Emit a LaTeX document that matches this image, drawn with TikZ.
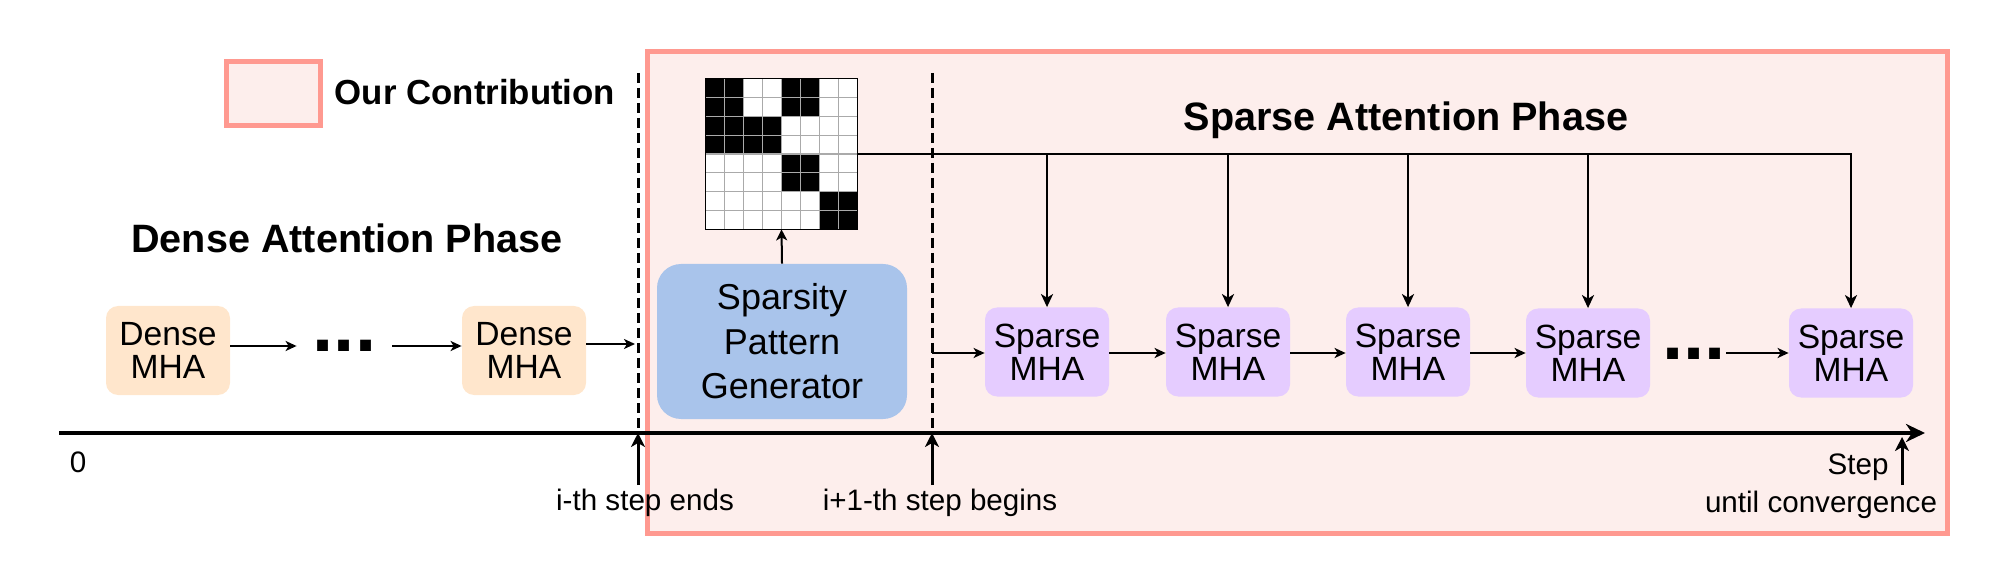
\documentclass[tikz,border=0pt]{standalone}
\usepackage{fontspec}
\setmainfont{Liberation Sans}
\usetikzlibrary{arrows.meta}
\definecolor{contribline}{HTML}{FF9990}
\definecolor{contribfill}{HTML}{FDEEEC}
\definecolor{densefill}{HTML}{FFE6CC}
\definecolor{sparsefill}{HTML}{E5CCFF}
\definecolor{genfill}{HTML}{A9C4EB}
\definecolor{gridgray}{HTML}{AAAAAA}
\begin{document}
\begin{tikzpicture}[x=0.5pt,y=-0.5pt,
  contrib/.style={draw=contribline, fill=contribfill, line width=2.5pt},
  mha/.style={rounded corners=6pt, minimum width=62pt, minimum height=44.5pt, inner sep=0pt, align=center, font=\fontsize{16.8}{16.5}\selectfont},
  densebox/.style={mha, fill=densefill},
  sparsebox/.style={mha, fill=sparsefill},
  genbox/.style={rounded corners=12pt, fill=genfill, minimum width=125pt, minimum height=77.5pt, inner sep=0pt, align=center, font=\fontsize{18}{22.2}\selectfont},
  titletext/.style={font=\fontsize{19.8}{22}\selectfont\bfseries, inner sep=0pt, anchor=base},
  labeltext/.style={font=\fontsize{14.8}{17}\selectfont, inner sep=0pt, anchor=base},
  dotstext/.style={font=\fontsize{38}{38}\selectfont\bfseries, inner sep=0pt, minimum height=0pt},
  dashline/.style={line width=1.5pt, dash pattern=on 5pt off 2.5pt},
  smallarr/.style={line width=1pt, -{Stealth[length=5.5pt,width=5pt,inset=1.5pt]}},
  downarr/.style={line width=1.2pt, -{Stealth[length=6.5pt,width=6pt,inset=1.8pt]}},
  uparr/.style={line width=1.5pt, -{Stealth[length=7pt,width=7pt,inset=2pt]}},
  axisarr/.style={line width=1.75pt, -{Stealth[length=9.5pt,width=9pt,inset=3pt]}}
]
\useasboundingbox (0,0) rectangle (2000,587);

% contribution region and legend
\draw[contrib] (647,52) rectangle (1947,533);
\draw[contrib] (226,62) rectangle (320,126);
\node[font=\fontsize{17.4}{20}\selectfont\bfseries, inner sep=0pt, anchor=base] (legend) at (475,105) {Our Contribution};

% titles
\node[titletext] (dtitle) at (347,253) {Dense Attention Phase};
\node[titletext] (stitle) at (1406,131) {Sparse Attention Phase};

% dense phase
\node[densebox] (d1) at (168,350.5) {Dense\\MHA};
\node[densebox] (d2) at (524,350.5) {Dense\\MHA};
\node[dotstext, minimum width=47.5pt] (dots1) at (344.5,346) {...};
\draw[smallarr] (d1.east |- dots1.west) -- (dots1.west);
\draw[smallarr] (dots1.east) -- (d2.west |- dots1.east);
\coordinate (in1) at (635,344);
\draw[smallarr] (d2.east |- in1) -- (in1);

% dashed step lines
\coordinate (dl1top) at (638,73);
\coordinate (dl1bot) at (638,433);
\coordinate (dl2top) at (932,73);
\coordinate (dl2bot) at (932,433);
\draw[dashline] (dl1top) -- (dl1bot);
\draw[dashline] (dl2top) -- (dl2bot);

% sparsity pattern generator and matrix
\node[genbox] (gen) at (782,341.5) {Sparsity\\Pattern\\Generator};
\node[inner sep=0pt, minimum width=75.5pt, minimum height=75pt, fill=white] (mat) at (781.5,154) {};
\foreach \r/\c in {0/0,0/1,0/4,0/5,1/0,1/1,1/4,1/5,2/0,2/1,2/2,2/3,3/0,3/1,3/2,3/3,4/4,4/5,5/4,5/5,6/6,6/7,7/6,7/7}
  \fill[black] (706+\c*18.875,79+\r*18.75) rectangle ++(18.875,18.75);
\foreach \i in {1,...,7} {
  \draw[gridgray, line width=0.6pt] (706+\i*18.875,79) -- ++(0,150);
  \draw[gridgray, line width=0.6pt] (706,79+\i*18.75) -- ++(151,0);
}
\draw[line width=0.8pt] (mat.south west) rectangle (mat.north east);
\draw[line width=1pt, -{Stealth[length=5.5pt,width=5.5pt,inset=1.5pt]}] (gen.north) -- (mat.south);

% sparse phase
\node[sparsebox] (s1) at (1047,352) {Sparse\\MHA};
\node[sparsebox] (s2) at (1228,352) {Sparse\\MHA};
\node[sparsebox] (s3) at (1408,352) {Sparse\\MHA};
\node[sparsebox] (s4) at (1588,353) {Sparse\\MHA};
\node[sparsebox] (s5) at (1851,353) {Sparse\\MHA};
\node[dotstext, minimum width=32pt] (dots2) at (1694,354) {...};
\coordinate (in2) at (932,353);
\draw[smallarr] (in2) -- (s1.west |- in2);
\draw[smallarr] (s1.east |- in2) -- (s2.west |- in2);
\draw[smallarr] (s2.east |- in2) -- (s3.west |- in2);
\draw[smallarr] (s3.east |- in2) -- (s4.west |- in2);
\draw[smallarr] (dots2.east |- s5.west) -- (s5.west);

\draw[downarr, line width=1.35pt] (mat.east) -| (s5.north);
\draw[downarr] (s1.north |- mat.east) -- (s1.north);
\draw[downarr] (s2.north |- mat.east) -- (s2.north);
\draw[downarr] (s3.north |- mat.east) -- (s3.north);
\draw[downarr] (s4.north |- mat.east) -- (s4.north);

% time axis
\coordinate (ax0) at (59,433);
\coordinate (ax1) at (1925,433);
\draw[axisarr] (ax0) -- (ax1);
\node[labeltext] (zero) at (78,472) {0};

\coordinate (ie) at (638,485);
\draw[uparr] (ie) -- (dl1bot);
\node[labeltext] (ielabel) at (645,510) {i-th step ends};
\coordinate (ib) at (932,485);
\draw[uparr] (ib) -- (dl2bot);
\node[labeltext] (iblabel) at (940,510) {i+1-th step begins};
\coordinate (cvb) at (1902,485);
\coordinate (cvt) at (1902,437);
\draw[uparr] (cvb) -- (cvt);
\node[labeltext] (steplabel) at (1858,474) {Step};
\node[labeltext] (convlabel) at (1821,512) {until convergence};
\end{tikzpicture}
\end{document}
